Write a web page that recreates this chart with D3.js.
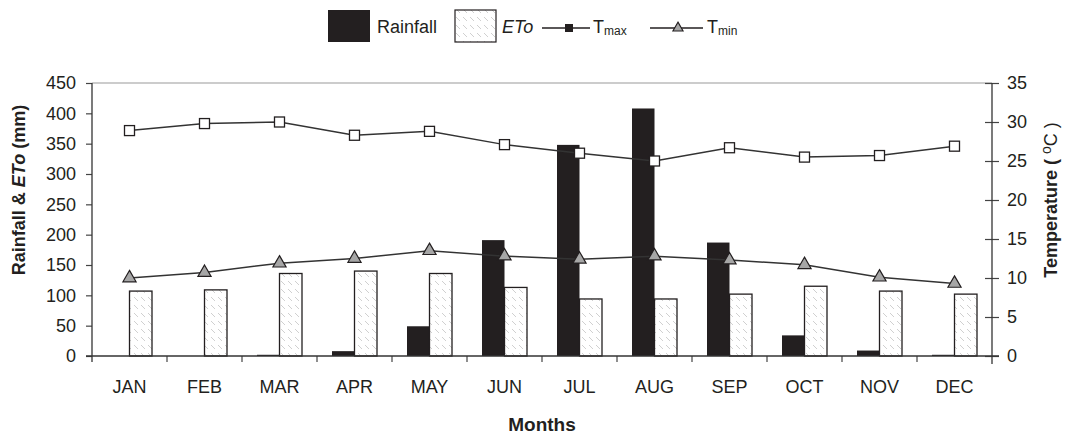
<!DOCTYPE html>
<html>
<head>
<meta charset="utf-8">
<script src="https://cdn.jsdelivr.net/npm/d3@7"></script>
<style>
  html, body { margin: 0; padding: 0; background: #fff; }
  svg { display: block; }
  text { font-family: "Liberation Sans", Arial, sans-serif; fill: #231f20; }
</style>
</head>
<body>
<div id="chart"></div>
<script>
(function () {
  "use strict";

  // Data
  const months = ["JAN", "FEB", "MAR", "APR", "MAY", "JUN", "JUL", "AUG", "SEP", "OCT", "NOV", "DEC"];
  const rainfall = [0, 0, 2, 8, 49, 191, 348, 408, 187, 34, 9, 2];
  const eto = [107, 109, 136, 140, 136, 113, 94, 94, 102, 115, 107, 102];
  const tmax = [28.9, 29.8, 30.0, 28.3, 28.8, 27.1, 26.0, 25.0, 26.7, 25.5, 25.7, 26.9];
  const tmin = [10.0, 10.7, 11.9, 12.5, 13.5, 12.8, 12.4, 12.8, 12.3, 11.7, 10.1, 9.3];
  const leftTicks = [0, 50, 100, 150, 200, 250, 300, 350, 400, 450];
  const rightTicks = [0, 5, 10, 15, 20, 25, 30, 35];

  const W = 1065, H = 435;
  const m = { left: 92, right: 73, top: 83, bottom: 79 };
  const x0 = m.left, x1 = W - m.right, y0 = H - m.bottom, y1 = m.top;
  const ink = "#231f20";

  const svg = d3.select("#chart").append("svg")
    .attr("width", W).attr("height", H);

  // Hatch for ETo bars
  const pat = svg.append("defs").append("pattern")
    .attr("id", "hatch").attr("patternUnits", "userSpaceOnUse")
    .attr("width", 7).attr("height", 8);
  pat.append("rect").attr("width", 7).attr("height", 8).attr("fill", "#fff");
  pat.append("line")
    .attr("x1", 1).attr("y1", 1).attr("x2", 5).attr("y2", 5)
    .attr("stroke", "#d0d0d0").attr("stroke-width", 1);

  const x = d3.scaleBand().domain(months).range([x0, x1]);
  const sub = d3.scaleBand().domain(["rain", "eto"])
    .range([0, x.bandwidth()]).paddingOuter(2 / 3);
  const y = d3.scaleLinear().domain([0, 450]).range([y0, y1]);
  const yT = d3.scaleLinear().domain([0, 35]).range([y0, y1]);

  // top frame line
  svg.append("line")
    .attr("x1", x0).attr("x2", x1).attr("y1", y1).attr("y2", y1)
    .attr("stroke", "#9a9a9a").attr("stroke-width", 1.2);

  // Bars
  svg.selectAll("rect.rain").data(months).enter().append("rect")
    .attr("class", "rain")
    .attr("x", (d) => x(d) + sub("rain"))
    .attr("width", sub.bandwidth())
    .attr("y", (d, i) => y(rainfall[i]))
    .attr("height", (d, i) => y0 - y(rainfall[i]))
    .attr("fill", ink);

  svg.selectAll("rect.eto").data(months).enter().append("rect")
    .attr("class", "eto")
    .attr("x", (d) => x(d) + sub("eto"))
    .attr("width", sub.bandwidth())
    .attr("y", (d, i) => y(eto[i]))
    .attr("height", (d, i) => y0 - y(eto[i]))
    .attr("fill", "url(#hatch)")
    .attr("stroke", ink).attr("stroke-width", 1.3);

  // Axes
  const gl = svg.append("g").attr("transform", `translate(${x0},0)`)
    .call(d3.axisLeft(y).tickValues(leftTicks).tickSizeOuter(0).tickSize(6).tickPadding(10));
  const gr = svg.append("g").attr("transform", `translate(${x1},0)`)
    .call(d3.axisRight(yT).tickValues(rightTicks).tickSizeOuter(0).tickSize(7).tickPadding(8));
  gr.selectAll(".tick line").attr("x1", -7);
  [gl, gr].forEach((g) => {
    g.select(".domain").remove();
    g.selectAll(".tick line").attr("stroke", "#444").attr("stroke-width", 1.2);
    g.selectAll(".tick text").attr("font-size", 18).attr("fill", ink)
      .attr("font-family", "Liberation Sans, Arial, sans-serif");
  });

  const gx = svg.append("g").attr("transform", `translate(0,${y0})`)
    .call(d3.axisBottom(x).tickSize(0).tickPadding(24));
  gx.select(".domain").remove();
  gx.selectAll(".tick text").attr("font-size", 18).attr("fill", ink)
    .attr("font-family", "Liberation Sans, Arial, sans-serif");
  svg.selectAll("line.xtick").data(months.slice(1)).enter().append("line")
    .attr("class", "xtick")
    .attr("x1", (d) => x(d)).attr("x2", (d) => x(d))
    .attr("y1", y0).attr("y2", y0 + 6)
    .attr("stroke", "#444").attr("stroke-width", 1.2);

  // axis lines
  svg.append("line").attr("x1", x0 - 6).attr("x2", x1 + 7).attr("y1", y0).attr("y2", y0)
    .attr("stroke", "#333").attr("stroke-width", 1.3);
  svg.append("line").attr("x1", x0).attr("x2", x0).attr("y1", y1).attr("y2", y0 + 6)
    .attr("stroke", "#333").attr("stroke-width", 1.3);
  svg.append("line").attr("x1", x1).attr("x2", x1).attr("y1", y1).attr("y2", y0 + 8)
    .attr("stroke", "#333").attr("stroke-width", 1.3);

  // Temperature lines
  const cx = (d) => x(d) + x.bandwidth() / 2;
  const line = (vals) => d3.line().x((d) => cx(d)).y((d, i) => yT(vals[i]))(months);
  [tmax, tmin].forEach((vals) => {
    svg.append("path").attr("d", line(vals))
      .attr("fill", "none").attr("stroke", "#333").attr("stroke-width", 1.5);
  });
  svg.selectAll("rect.tmax").data(months).enter().append("rect")
    .attr("class", "tmax")
    .attr("x", (d) => cx(d) - 5).attr("y", (d, i) => yT(tmax[i]) - 5)
    .attr("width", 10).attr("height", 10)
    .attr("fill", "#fff").attr("stroke", ink).attr("stroke-width", 1.3);
  const tri = d3.symbol().type(d3.symbolTriangle).size(75);
  svg.selectAll("path.tmin").data(months).enter().append("path")
    .attr("class", "tmin")
    .attr("d", tri)
    .attr("transform", (d, i) => `translate(${cx(d)},${yT(tmin[i])})`)
    .attr("fill", "#a6a6a6").attr("stroke", ink).attr("stroke-width", 1.2);

  // Axis titles
  svg.append("text")
    .attr("transform", `translate(${(x0 + x1) / 2},431)`)
    .attr("text-anchor", "middle").attr("font-size", 19).attr("font-weight", "bold")
    .text("Months");

  const lt = svg.append("text")
    .attr("transform", "translate(25,190) rotate(-90)")
    .attr("text-anchor", "middle").attr("font-size", 18).attr("font-weight", "bold");
  lt.append("tspan").text("Rainfall & ");
  lt.append("tspan").attr("font-style", "italic").text("ETo");
  lt.append("tspan").text(" (mm)");

  const rt = svg.append("text")
    .attr("transform", "translate(1057,200) rotate(-90)")
    .attr("text-anchor", "middle").attr("font-size", 18).attr("font-weight", "bold");
  rt.append("tspan").text("Temperature ( ");
  rt.append("tspan").attr("font-weight", "normal").attr("font-size", 14).attr("dy", -6).text("o");
  rt.append("tspan").attr("font-weight", "normal").attr("dy", 6).text("C )");

  // Legend
  const lg = svg.append("g");
  lg.append("rect").attr("x", 328).attr("y", 10).attr("width", 42).attr("height", 32).attr("fill", ink);
  lg.append("text").attr("x", 377).attr("y", 33).attr("font-size", 18).text("Rainfall");
  lg.append("rect").attr("x", 455).attr("y", 10).attr("width", 41).attr("height", 32)
    .attr("fill", "url(#hatch)").attr("stroke", ink).attr("stroke-width", 1.2);
  lg.append("text").attr("x", 502).attr("y", 33).attr("font-size", 18)
    .attr("font-style", "italic").text("ETo");

  lg.append("line").attr("x1", 542).attr("x2", 590).attr("y1", 28).attr("y2", 28)
    .attr("stroke", ink).attr("stroke-width", 1.5);
  lg.append("rect").attr("x", 565).attr("y", 24).attr("width", 8).attr("height", 8).attr("fill", ink);
  const t1 = lg.append("text").attr("x", 593).attr("y", 33).attr("font-size", 18);
  t1.append("tspan").text("T");
  t1.append("tspan").attr("font-size", 12).attr("dy", 2).text("max");

  lg.append("line").attr("x1", 650).attr("x2", 703).attr("y1", 28).attr("y2", 28)
    .attr("stroke", ink).attr("stroke-width", 1.5);
  lg.append("path").attr("d", d3.symbol().type(d3.symbolTriangle).size(45))
    .attr("transform", "translate(678,28)")
    .attr("fill", "#a6a6a6").attr("stroke", ink).attr("stroke-width", 1.1);
  const t2 = lg.append("text").attr("x", 707).attr("y", 33).attr("font-size", 18);
  t2.append("tspan").text("T");
  t2.append("tspan").attr("font-size", 12).attr("dy", 2).text("min");
})();
</script>
</body>
</html>
